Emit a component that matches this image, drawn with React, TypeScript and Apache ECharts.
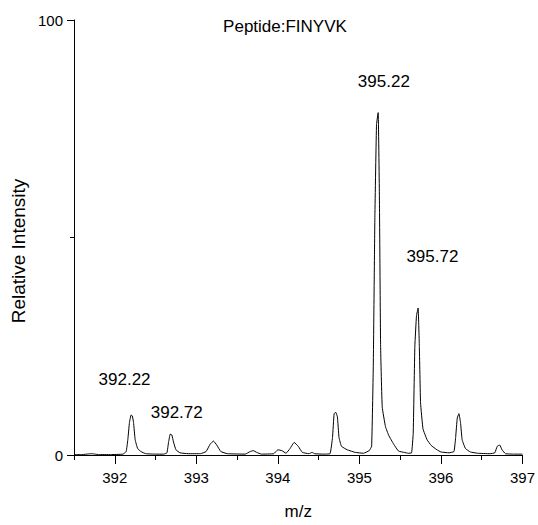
import React, { useEffect, useRef } from "react";
import * as echarts from "echarts";

const mzValues: number[] = [
  391.5, 391.6, 391.68, 391.72, 391.76, 391.8, 391.95, 392.1, 392.14, 392.16, 392.18, 392.2, 392.215, 392.23, 392.25, 392.28, 392.32, 392.38, 392.5,
  392.6, 392.64, 392.66, 392.68, 392.7, 392.72, 392.75, 392.8, 392.9, 393.05, 393.12, 393.17, 393.21, 393.25, 393.3, 393.38, 393.6,
  393.66, 393.7, 393.74, 393.8, 393.95, 394.0, 394.05, 394.1, 394.15, 394.2, 394.25, 394.3, 394.38, 394.42, 394.45, 394.55,
  394.64, 394.67, 394.69, 394.71, 394.73, 394.75, 394.78, 394.85, 394.95, 395.05, 395.12, 395.15, 395.17, 395.19, 395.21, 395.23,
  395.245, 395.26, 395.28, 395.32, 395.36, 395.42, 395.48, 395.55, 395.6, 395.64, 395.66, 395.68, 395.7, 395.72, 395.735, 395.75,
  395.78, 395.83, 395.88, 395.95, 396.0, 396.1, 396.16, 396.18, 396.2, 396.22, 396.24, 396.26, 396.3, 396.36, 396.45, 396.6,
  396.66, 396.69, 396.72, 396.75, 396.79, 396.9, 397.0,
];

const intensityValues: number[] = [
  0.1, 0.1, 0.25, 0.3, 0.2, 0.1, 0.1, 0.2, 0.8, 3.5, 7.5, 9.2, 9.0, 7.5, 3.5, 1.5, 0.8, 0.3, 0.2,
  0.2, 0.5, 3.0, 4.8, 4.6, 3.0, 1.2, 0.5, 0.3, 0.3, 0.8, 2.5, 3.2, 2.3, 0.8, 0.3, 0.2,
  0.8, 1.0, 0.6, 0.2, 0.3, 1.2, 1.0, 0.4, 1.5, 2.9, 2.0, 0.6, 0.3, 0.6, 0.3, 0.2,
  0.3, 4.0, 9.5, 9.8, 8.8, 4.0, 2.0, 1.2, 0.6, 0.4, 1.0, 2.0, 20, 55, 76, 78.7,
  60, 25, 11, 6.5, 4.5, 2.5, 0.9, 0.6, 0.4, 0.5, 5, 25, 32, 33.8, 25, 12,
  6.0, 3.5, 2.2, 1.2, 0.7, 0.5, 0.8, 4.0, 8.5, 9.5, 7.5, 3.5, 1.5, 0.7, 0.4, 0.3,
  0.5, 2.0, 2.3, 1.2, 0.3, 0.2, 0.2,
];

const peakLabels: string[] = ["392.22", "392.72", "395.22", "395.72"];
const peakLabelX: number[] = [392.12, 392.76, 395.3, 395.895];
const peakLabelY: number[] = [17.4, 9.8, 85.8, 45.7];

const xMajorTicks: number[] = [392, 393, 394, 395, 396, 397];
const xMinorTicks: number[] = [391.5, 392.5, 393.5, 394.5, 395.5, 396.5];

const titleText = "Peptide:FINYVK";
const xName = "m/z";
const yName = "Relative Intensity";

const FONT = "'Liberation Sans', Arial, Helvetica, sans-serif";

export default function App() {
  const ref = useRef<HTMLDivElement>(null);
  useEffect(() => {
    if (!ref.current) return;
    const chart = echarts.init(ref.current, null, { renderer: "svg" });
    const profile = mzValues.map((x, i) => [x, intensityValues[i]]);
    const labels = peakLabels.map((t, i) => ({ value: [peakLabelX[i], peakLabelY[i]], name: t }));
    chart.setOption({
      animation: false,
      backgroundColor: "#fff",
      textStyle: { fontFamily: FONT, color: "#000" },
      grid: { left: 74, right: 14, top: 20, bottom: 69 },
      graphic: [
        {
          type: "text",
          x: 285,
          y: 26,
          style: { text: titleText, font: `17px ${FONT}`, fill: "#000", textAlign: "center", textVerticalAlign: "middle" },
        },
        {
          type: "text",
          x: 18,
          y: 251,
          rotation: Math.PI / 2,
          style: { text: yName, font: `19px ${FONT}`, fill: "#000", textAlign: "center", textVerticalAlign: "middle" },
        },
      ],
      xAxis: [
        {
          type: "value",
          min: 391.5,
          max: 397,
          name: xName,
          nameLocation: "middle",
          nameGap: 48,
          nameTextStyle: { fontSize: 17, color: "#000", fontFamily: FONT },
          axisLine: { show: true, onZero: false, lineStyle: { color: "#000", width: 1 } },
          axisTick: { show: true, length: 9, lineStyle: { color: "#000" }, customValues: xMajorTicks },
          axisLabel: { customValues: xMajorTicks, color: "#000", fontSize: 15, margin: 15, fontFamily: FONT },
          splitLine: { show: false },
        },
        {
          type: "value",
          min: 391.5,
          max: 397,
          position: "bottom",
          axisLine: { show: false, onZero: false },
          axisTick: { show: true, length: 5, lineStyle: { color: "#000" }, customValues: xMinorTicks },
          axisLabel: { show: false },
          splitLine: { show: false },
        },
      ],
      yAxis: {
        type: "value",
        min: 0,
        max: 100,
        interval: 100,
        axisLine: { show: true, lineStyle: { color: "#000", width: 1 } },
        axisTick: { show: true, length: 7, lineStyle: { color: "#000" } },
        minorTick: { show: true, splitNumber: 2, length: 4, lineStyle: { color: "#000" } },
        axisLabel: { color: "#000", fontSize: 15, margin: 11, fontFamily: FONT },
        splitLine: { show: false },
      },
      series: [
        {
          type: "line",
          data: profile,
          showSymbol: false,
          symbol: "none",
          smooth: 0.1,
          lineStyle: { color: "#000", width: 1 },
          silent: true,
        },
        {
          type: "scatter",
          data: labels,
          symbolSize: 0,
          silent: true,
          itemStyle: { color: "#000", opacity: 0 },
          label: {
            show: true,
            position: "inside",
            formatter: (p: any) => p.name,
            fontSize: 17,
            color: "#000",
            textBorderWidth: 0,
            opacity: 1,
            fontFamily: FONT,
          },
        },
      ],
    });
    return () => chart.dispose();
  }, []);
  return <div ref={ref} style={{ position: "fixed", left: 0, top: 0, width: 538, height: 525 }} />;
}
